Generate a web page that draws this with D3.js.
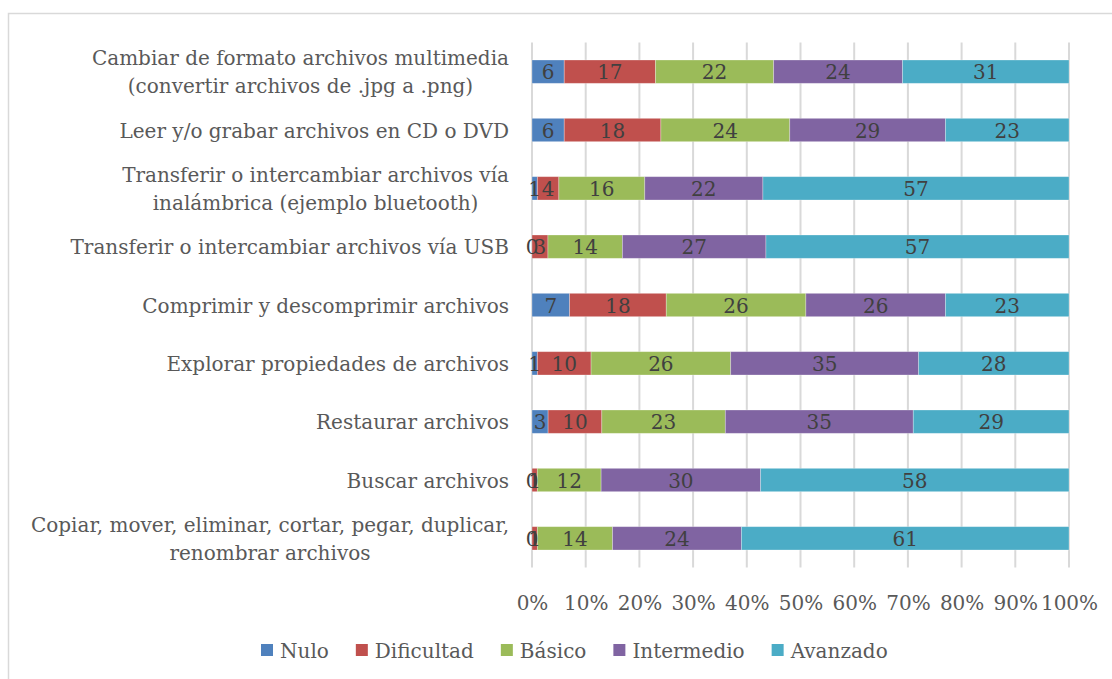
<!DOCTYPE html>
<html>
<head>
<meta charset="utf-8">
<script src="https://cdn.jsdelivr.net/npm/d3@7"></script>
<style>
  body { margin: 0; background: #fff; }
  svg text { font-family: "DejaVu Serif", "Liberation Serif", serif; }
</style>
</head>
<body>
<div id="chart"></div>
<script>
// categories, top to bottom (lines split where the original wraps)
var categories = [
  ['Cambiar de formato archivos multimedia', '(convertir archivos de .jpg a .png)'],
  ['Leer y/o grabar archivos en CD o DVD'],
  ['Transferir o intercambiar archivos vía', 'inalámbrica (ejemplo bluetooth)'],
  ['Transferir o intercambiar archivos vía USB'],
  ['Comprimir y descomprimir archivos'],
  ['Explorar propiedades de archivos'],
  ['Restaurar archivos'],
  ['Buscar archivos'],
  ['Copiar, mover, eliminar, cortar, pegar, duplicar,', 'renombrar archivos']
]
var seriesNames = ['Nulo', 'Dificultad', 'Básico', 'Intermedio', 'Avanzado']
var nulo       = [6, 6, 1, 0, 7, 1, 3, 0, 0]
var dificultad = [17, 18, 4, 3, 18, 10, 10, 1, 1]
var basico     = [22, 24, 16, 14, 26, 26, 23, 12, 14]
var intermedio = [24, 29, 22, 27, 26, 35, 35, 30, 24]
var avanzado   = [31, 23, 57, 57, 23, 28, 29, 58, 61]
var colors = ['#4f81bd', '#c0504d', '#9bbb59', '#8064a2', '#4bacc6']
var ticks = [0, 0.1, 0.2, 0.3, 0.4, 0.5, 0.6, 0.7, 0.8, 0.9, 1]

var w = 1112
  , h = 679
  , plotL = 532
  , plotR = 1069
  , plotT = 42.5
  , plotB = 567.5
  , fs = 20

var series = [nulo, dificultad, basico, intermedio, avanzado]

var rows = categories.map(function (c, i) {
  var vals = series.map(function (s) { return s[i] })
  var total = d3.sum(vals)
  var acc = 0
  return vals.map(function (v, k) {
    var seg = { row: i, k: k, v: v, x0: acc / total, x1: (acc + v) / total }
    acc += v
    return seg
  })
})

var svg = d3.select('#chart').append('svg').attr('width', w).attr('height', h)

svg.append('rect')
  .attr('x', 8.5).attr('y', 13.5)
  .attr('width', w).attr('height', h)
  .attr('fill', '#fff').attr('stroke', '#d9d9d9').attr('stroke-width', 1.5)

var x = d3.scaleLinear().domain([0, 1]).range([plotL, plotR])
var y = d3.scaleBand().domain(d3.range(categories.length)).range([plotT, plotB]).paddingInner(0.6).paddingOuter(0.3)

// gridlines
svg.append('g').selectAll('line').data(ticks)
  .enter().append('line')
  .attr('x1', function (d) { return x(d) }).attr('x2', function (d) { return x(d) })
  .attr('y1', plotT).attr('y2', plotB)
  .attr('stroke', '#d9d9d9').attr('stroke-width', 2)

// x tick labels
var xAxis = d3.axisBottom(x).tickValues(ticks).tickSize(0).tickPadding(0)
  .tickFormat(function (d) { return Math.round(d * 100) + '%' })
var gx = svg.append('g').attr('transform', 'translate(0,' + 610 + ')').call(xAxis)
gx.select('.domain').remove()
gx.selectAll('text').attr('font-size', fs).attr('fill', '#595959')
  .attr('dy', 0).attr('font-family', '"DejaVu Serif", "Liberation Serif", serif')

// bars
var segs = d3.merge(rows)
svg.append('g').selectAll('rect').data(segs)
  .enter().append('rect')
  .attr('x', function (d) { return x(d.x0) })
  .attr('width', function (d) { return x(d.x1) - x(d.x0) })
  .attr('y', function (d) { return y(d.row) })
  .attr('height', y.bandwidth())
  .attr('fill', function (d) { return colors[d.k] })
  .attr('stroke', 'rgba(255,255,255,0.35)').attr('stroke-width', 0.8)

svg.append('g').selectAll('text').data(segs)
  .enter().append('text')
  .attr('x', function (d) { return (x(d.x0) + x(d.x1)) / 2 })
  .attr('y', function (d) { return y(d.row) + y.bandwidth() / 2 + 7.5 })
  .attr('text-anchor', 'middle')
  .attr('font-size', fs)
  .attr('fill', '#404040')
  .text(function (d) { return d.v })

// category labels, right-aligned block, lines centred on each other
var labels = svg.append('g')
categories.forEach(function (lines, i) {
  var g = labels.append('g')
  var cy = y(i) + y.bandwidth() / 2
  var lh = 27.5
  var t = g.selectAll('text').data(lines).enter().append('text')
    .attr('font-size', fs).attr('fill', '#595959')
    .attr('y', function (d, j) { return cy + 7.5 + (j - (lines.length - 1) / 2) * lh })
    .text(function (d) { return d })
  var maxW = 0
  t.each(function () { maxW = Math.max(maxW, this.getComputedTextLength()) })
  t.attr('text-anchor', 'middle').attr('x', 509 - maxW / 2)
})

// legend
var legend = svg.append('g')
var lx = 261
seriesNames.forEach(function (n, k) {
  legend.append('rect').attr('x', lx).attr('y', 644).attr('width', 12).attr('height', 12).attr('fill', colors[k])
  var t = legend.append('text').attr('x', lx + 19).attr('y', 657.5)
    .attr('font-size', fs).attr('fill', '#595959').text(n)
  lx += 19 + t.node().getComputedTextLength() + 27
})
</script>
</body>
</html>
